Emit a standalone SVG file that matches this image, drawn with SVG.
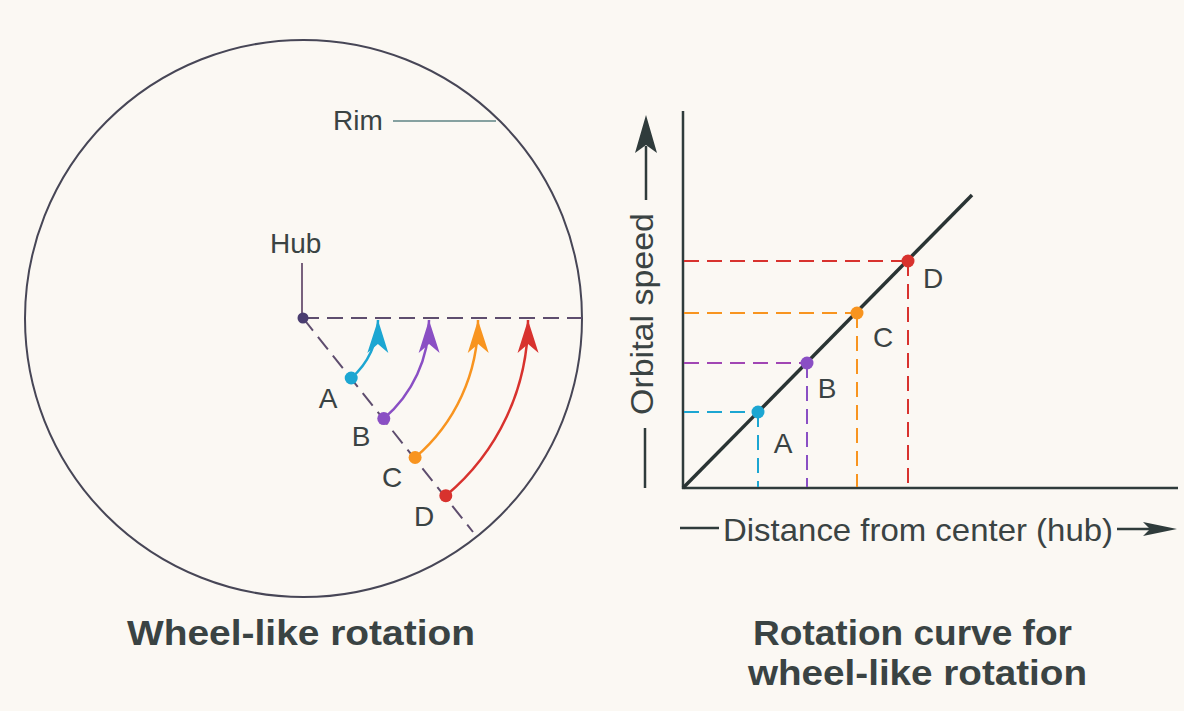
<svg xmlns="http://www.w3.org/2000/svg" width="1184" height="711" viewBox="0 0 1184 711">
  <style>
    .lbl { font-family: "Liberation Sans", Arial, sans-serif; fill: #3a4343; }
    .title { font-family: "Liberation Sans", Arial, sans-serif; font-weight: bold; fill: #3a4343; font-size: 35px; }
    .axis { stroke: #2f3b3b; stroke-width: 2.5; fill: none; }
    .wdash { stroke: #5e4d6e; stroke-width: 2; stroke-dasharray: 16 8; fill: none; }
    .gdash { stroke-width: 2; stroke-dasharray: 15 8; fill: none; }
    .arc { stroke-width: 2.5; fill: none; }
  </style>
  <defs>
    <marker id="mA" viewBox="-36 -13 38 26" refX="0" refY="0" markerWidth="38" markerHeight="26" markerUnits="userSpaceOnUse" orient="auto">
      <path d="M0,0 L-33,-10.5 L-24,0 L-33,10.5 Z" fill="#1ca6d2"/>
    </marker>
    <marker id="mB" viewBox="-36 -13 38 26" refX="0" refY="0" markerWidth="38" markerHeight="26" markerUnits="userSpaceOnUse" orient="auto">
      <path d="M0,0 L-33,-10.5 L-24,0 L-33,10.5 Z" fill="#8a4fc4"/>
    </marker>
    <marker id="mC" viewBox="-36 -13 38 26" refX="0" refY="0" markerWidth="38" markerHeight="26" markerUnits="userSpaceOnUse" orient="auto">
      <path d="M0,0 L-33,-10.5 L-24,0 L-33,10.5 Z" fill="#f8941f"/>
    </marker>
    <marker id="mD" viewBox="-36 -13 38 26" refX="0" refY="0" markerWidth="38" markerHeight="26" markerUnits="userSpaceOnUse" orient="auto">
      <path d="M0,0 L-33,-10.5 L-24,0 L-33,10.5 Z" fill="#d8322e"/>
    </marker>
  </defs>
  <rect width="1184" height="711" fill="#fbf8f3"/>

  <!-- Wheel -->
  <g id="wheel">
    <circle cx="303.5" cy="318.5" r="278.5" fill="none" stroke="#474656" stroke-width="2"/>
  </g>
  <g id="rim-label">
    <text class="lbl" x="333" y="130" font-size="28">Rim</text>
    <line x1="393" y1="121" x2="496" y2="121" stroke="#5f8585" stroke-width="1.5"/>
  </g>
  <g id="hub">
    <text class="lbl" x="270" y="253" font-size="28">Hub</text>
    <line x1="302" y1="263" x2="302" y2="318" stroke="#6a5070" stroke-width="1.8"/>
  </g>

  <g id="connectors">
    <!-- wheel dashed radii -->
    <line class="wdash" x1="303" y1="318" x2="582" y2="318"/>
    <line class="wdash" x1="303" y1="318" x2="473" y2="532"/>
    <!-- rotation arcs -->
    <path class="arc" stroke="#1ca6d2" d="M351.2,378 A77,77 0 0 0 378,320" marker-end="url(#mA)"/>
    <path class="arc" stroke="#8a4fc4" d="M383.8,418.6 A129,129 0 0 0 429,320" marker-end="url(#mB)"/>
    <path class="arc" stroke="#f8941f" d="M415.1,457.5 A179,179 0 0 0 478,320" marker-end="url(#mC)"/>
    <path class="arc" stroke="#d8322e" d="M445.8,495.7 A228,228 0 0 0 528,320" marker-end="url(#mD)"/>

    <!-- graph axes -->
    <line class="axis" x1="683" y1="111" x2="683" y2="489"/>
    <line class="axis" x1="682" y1="488" x2="1178" y2="488"/>
    <line x1="683" y1="488" x2="972" y2="195" stroke="#2a3434" stroke-width="3.5"/>
    <!-- graph dashed guides -->
    <line class="gdash" stroke="#1ca6d2" x1="684" y1="412" x2="758" y2="412"/>
    <line class="gdash" stroke="#1ca6d2" x1="758" y1="412" x2="758" y2="487"/>
    <line class="gdash" stroke="#a146b4" x1="684" y1="363" x2="807" y2="363"/>
    <line class="gdash" stroke="#8a4fc4" x1="807" y1="363" x2="807" y2="487"/>
    <line class="gdash" stroke="#f8941f" x1="684" y1="313" x2="857" y2="313"/>
    <line class="gdash" stroke="#f8941f" x1="857" y1="313" x2="857" y2="487"/>
    <line class="gdash" stroke="#d8322e" x1="684" y1="261" x2="908" y2="261"/>
    <line class="gdash" stroke="#d8322e" x1="908" y1="261" x2="908" y2="487"/>
  </g>

  <g id="hub-dot"><circle cx="303" cy="318" r="5.5" fill="#4a3d70"/></g>

  <g id="wheel-A">
    <circle cx="351.2" cy="378" r="6.5" fill="#1ca6d2"/>
    <text class="lbl" x="328" y="408" font-size="28" text-anchor="middle">A</text>
  </g>
  <g id="wheel-B">
    <circle cx="383.8" cy="418.6" r="6.5" fill="#8a4fc4"/>
    <text class="lbl" x="361" y="446" font-size="28" text-anchor="middle">B</text>
  </g>
  <g id="wheel-C">
    <circle cx="415.1" cy="457.5" r="6.5" fill="#f8941f"/>
    <text class="lbl" x="392" y="487" font-size="28" text-anchor="middle">C</text>
  </g>
  <g id="wheel-D">
    <circle cx="445.8" cy="495.7" r="6.5" fill="#d8322e"/>
    <text class="lbl" x="424" y="526" font-size="28" text-anchor="middle">D</text>
  </g>

  <g id="graph-A">
    <circle cx="758" cy="412" r="6.5" fill="#1ca6d2"/>
    <text class="lbl" x="783" y="453" font-size="28" text-anchor="middle">A</text>
  </g>
  <g id="graph-B">
    <circle cx="807" cy="363" r="6.5" fill="#8a4fc4"/>
    <text class="lbl" x="827" y="398" font-size="28" text-anchor="middle">B</text>
  </g>
  <g id="graph-C">
    <circle cx="857" cy="313" r="6.5" fill="#f8941f"/>
    <text class="lbl" x="883" y="347" font-size="28" text-anchor="middle">C</text>
  </g>
  <g id="graph-D">
    <circle cx="908" cy="261" r="6.5" fill="#d8322e"/>
    <text class="lbl" x="933" y="288" font-size="28" text-anchor="middle">D</text>
  </g>

  <g id="y-axis-label">
    <line x1="645" y1="428" x2="645" y2="488" stroke="#2f3b3b" stroke-width="2.5"/>
    <text class="lbl" font-size="32" text-anchor="middle" transform="translate(653,314) rotate(-90)" textLength="202" lengthAdjust="spacingAndGlyphs">Orbital speed</text>
    <line x1="646" y1="200" x2="646" y2="146" stroke="#2f3b3b" stroke-width="2.5"/>
    <path d="M646,115 L657,153 L646,145 L635,153 Z" fill="#2f3b3b"/>
  </g>

  <g id="x-axis-label">
    <line x1="680" y1="528" x2="719" y2="528" stroke="#2f3b3b" stroke-width="2.5"/>
    <text class="lbl" x="723" y="541" font-size="32" textLength="390" lengthAdjust="spacingAndGlyphs">Distance from center (hub)</text>
    <line x1="1117" y1="529" x2="1152" y2="529" stroke="#2f3b3b" stroke-width="2.5"/>
    <path d="M1177,529 L1143,522 L1150,529 L1143,536 Z" fill="#2f3b3b"/>
  </g>

  <g id="titles">
    <text class="title" x="127" y="645" textLength="348" lengthAdjust="spacingAndGlyphs">Wheel-like rotation</text>
    <text class="title" x="912.5" y="645" text-anchor="middle" textLength="319" lengthAdjust="spacingAndGlyphs">Rotation curve for</text>
    <text class="title" x="917.5" y="685" text-anchor="middle" textLength="339" lengthAdjust="spacingAndGlyphs">wheel-like rotation</text>
  </g>
</svg>
